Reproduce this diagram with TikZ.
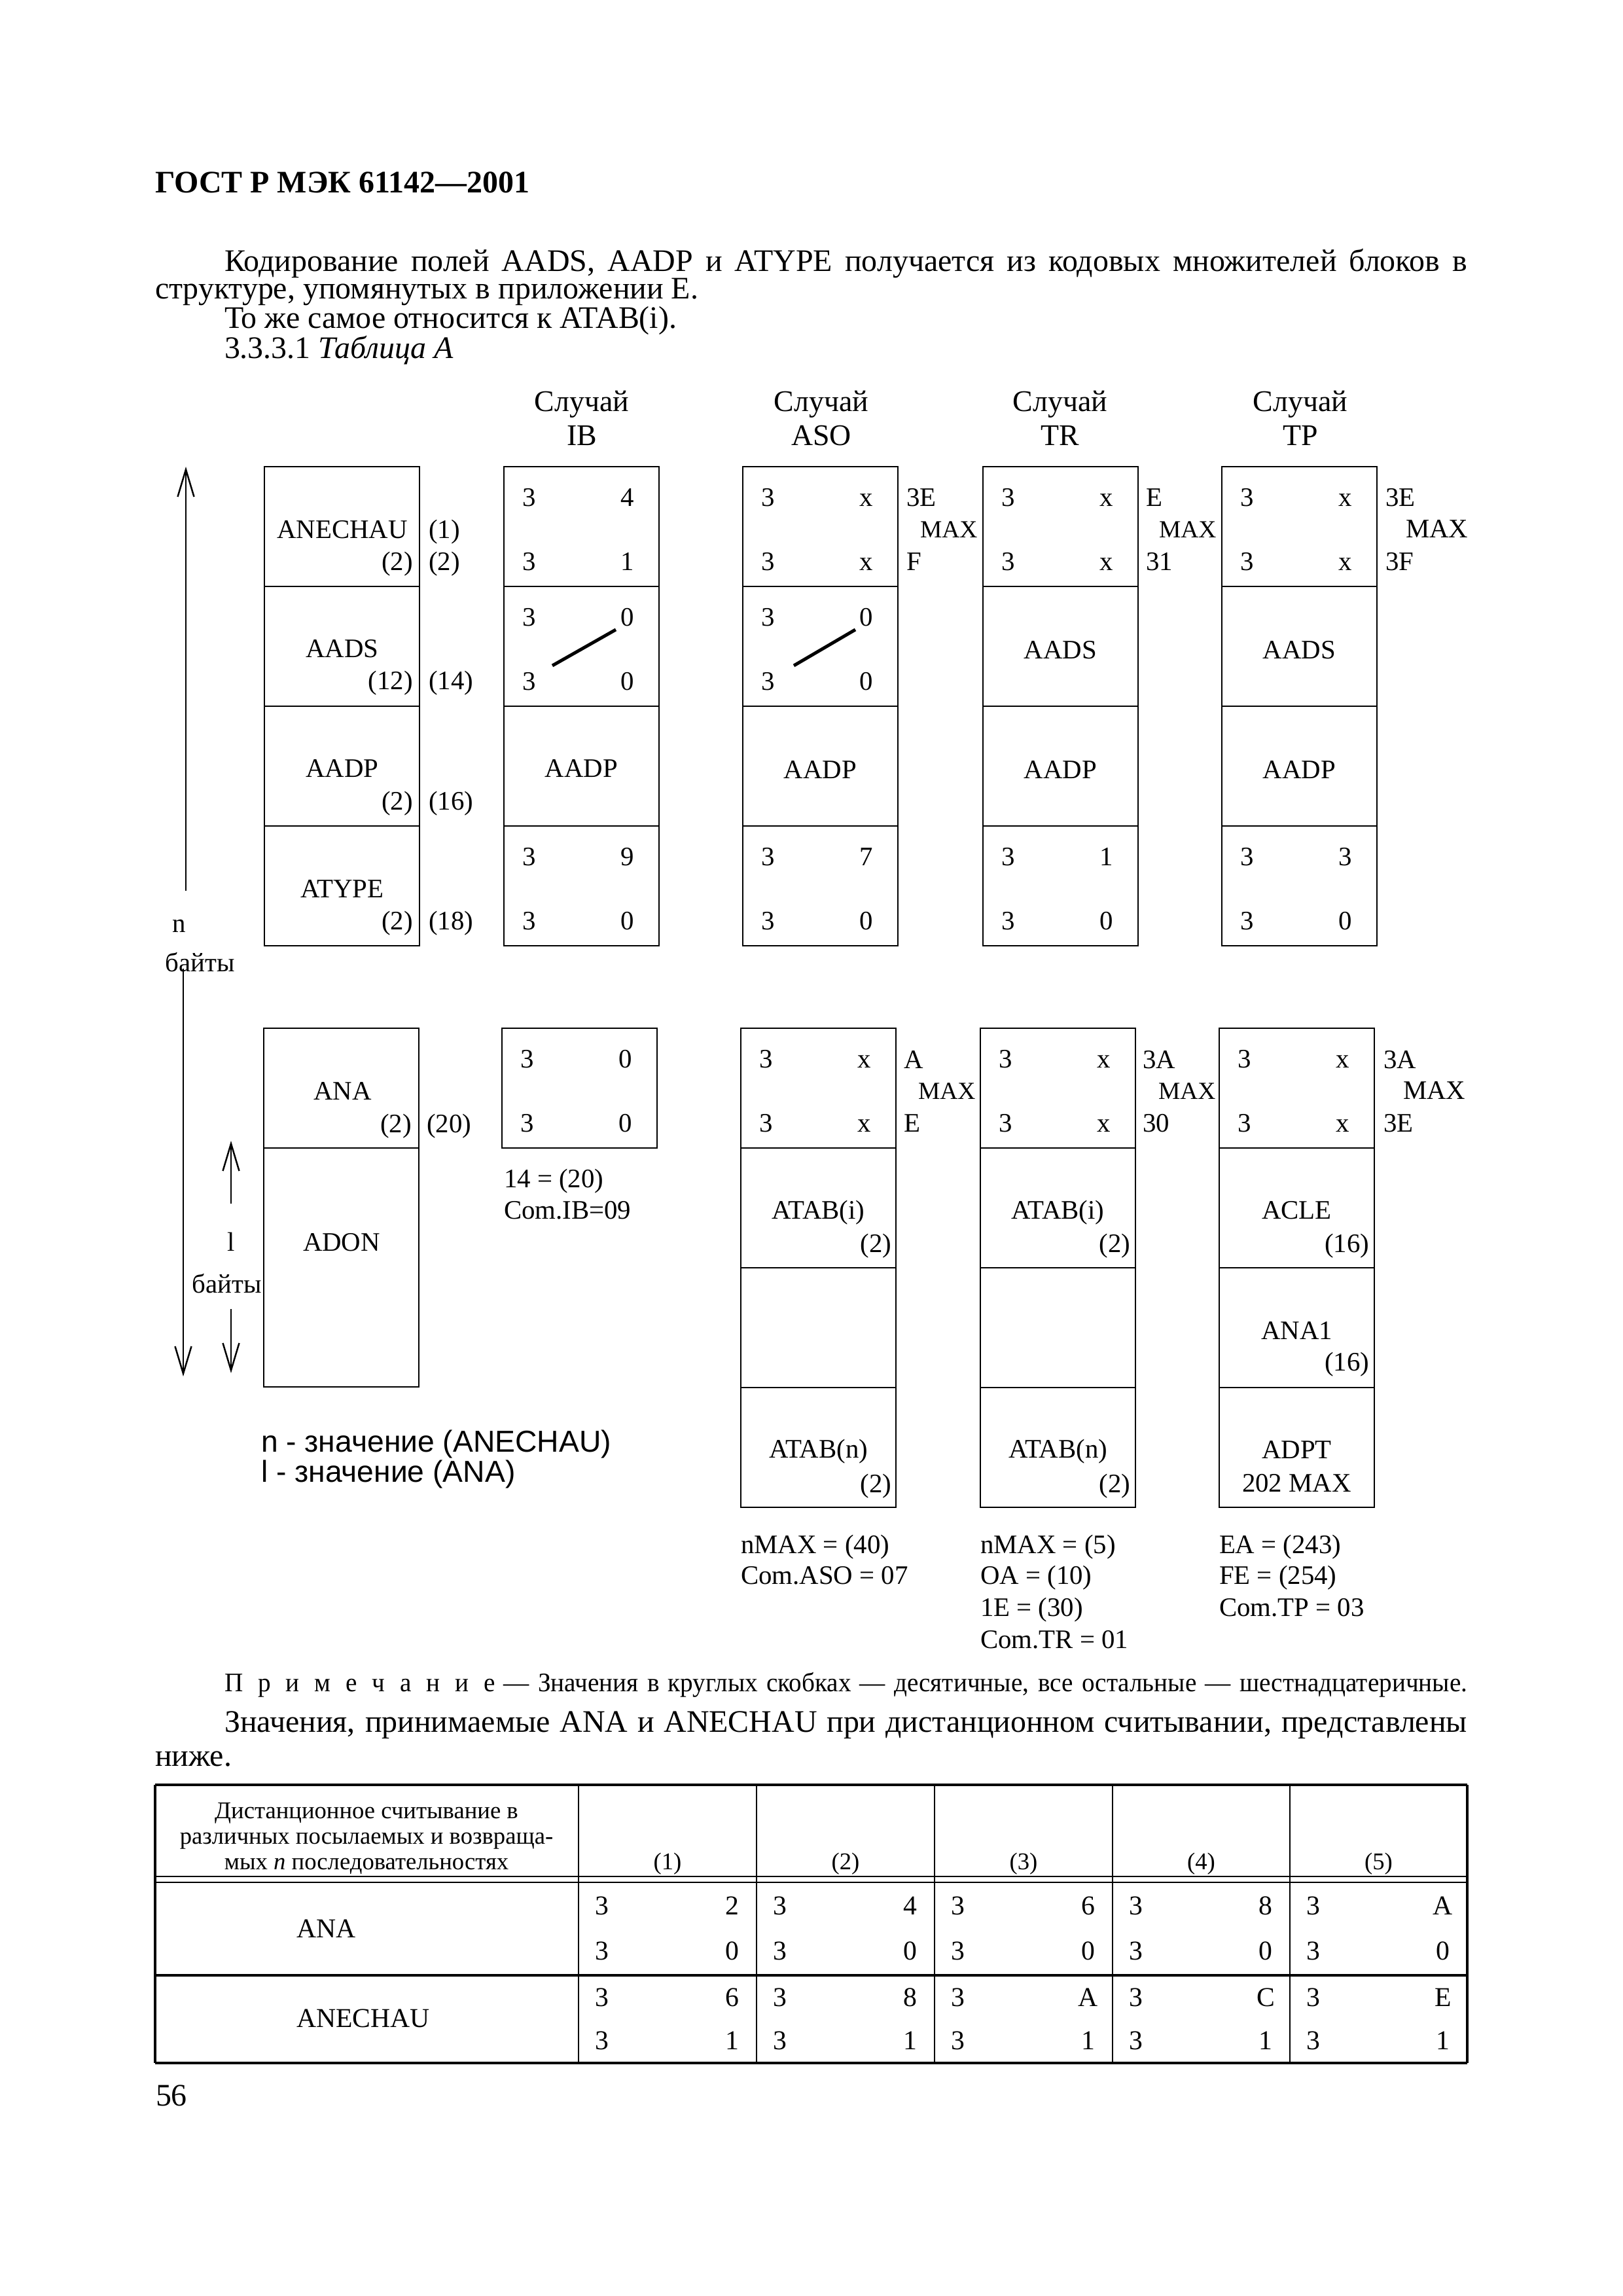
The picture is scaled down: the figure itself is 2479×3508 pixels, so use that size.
\documentclass[tikz,border=0pt]{standalone}
\usepackage{fontspec}
\setmainfont{Liberation Serif}
\newfontfamily\sansf{Liberation Sans}
\newfontfamily\notefam[FakeStretch=0.96]{Liberation Serif}
\usetikzlibrary{arrows.meta}

\newcommand\bodyf{\fontsize{11.5}{13.5}\selectfont}
\newcommand\titf{\fontsize{11.5}{13.5}\selectfont\bfseries}
\newcommand\dgf{\fontsize{9.8}{11.5}\selectfont}
\newcommand\mxf{\fontsize{9}{11}\selectfont}
\newcommand\mxbf{\fontsize{9.8}{11.5}\selectfont}
\newcommand\hdf{\fontsize{11}{13}\selectfont}
\newcommand\notef{\notefam\fontsize{9.8}{12}\selectfont}
\newcommand\smf{\fontsize{8.8}{10.5}\selectfont}
\newcommand\tblf{\fontsize{10}{12}\selectfont}
\newcommand\legf{\sansf\fontsize{11.1}{13}\selectfont}
\newcommand\lsp{\hspace{5.5pt}}

\tikzset{
  t/.style={inner sep=0pt, outer sep=0pt, text height=1.48ex, text depth=0pt},
  dg/.style={t, font=\dgf},
  tbl/.style={t, font=\tblf},
  body/.style={t, font=\bodyf, anchor=west},
  boxline/.style={line width=0.6pt},
  heavyrule/.style={line width=0.9pt},
  lightrule/.style={line width=0.4pt},
  diagline/.style={line width=1.2pt},
  arr/.style={line width=0.6pt, -{Straight Barb[length=10pt,width=6pt]}},
}

% two rows of digits in a cell: name, x left, y top, upper right, lower right
\newcommand\digcell[5]{%
  \node[dg] (#1a) at ({#2+39},{#3+46}) {3};
  \node[dg] (#1b) at ({#2+189},{#3+46}) {#4};
  \node[dg] (#1c) at ({#2+39},{#3+144}) {3};
  \node[dg] (#1d) at ({#2+189},{#3+144}) {#5};
}

\begin{document}
\begin{tikzpicture}[x=0.24pt,y=-0.24pt]
\useasboundingbox (0,0) rectangle (2479,3508);
\fill[white] (0,0) rectangle (2479,3508);

% ---------- heading and paragraph ----------
\node[t, font=\titf, anchor=west] (title) at (237,280) {ГОСТ Р МЭК 61142—2001};
\node[body] (p1) at (343,400) {\makebox[455.8pt][s]{Кодирование полей AADS, AADP и ATYPE получается из кодовых множителей блоков в}};
\node[body] (p2) at (237,442) {структуре, упомянутых в приложении Е.};
\node[body] (p3) at (343,487) {То же самое относится к ATAB(i).};
\node[body] (p4) at (343,533) {3.3.3.1 \textit{Таблица А}};

% ---------- case headers ----------
\foreach \cx/\nm/\lab in {889/ib/IB, 1255/aso/ASO, 1620/tr/TR, 1987/tp/TP} {
  \node[t, font=\hdf] (h\nm a) at (\cx,614) {Случай};
  \node[t, font=\hdf] (h\nm b) at (\cx,666) {\lab};
}

% ---------- upper frames ----------
\foreach \x in {404,770,1135,1502,1867} {
  \draw[boxline] (\x,713) rectangle ({\x+237},1445);
  \foreach \yy in {896,1079,1262} \draw[boxline] (\x,\yy) -- ({\x+237},\yy);
}

% left column
\node[dg] (anechau) at (523,808) {ANECHAU};
\node[dg, anchor=east] (na1) at (631,857) {(2)};
\node[dg, anchor=west] (oa1) at (655,808) {(1)};
\node[dg, anchor=west] (oa2) at (655,857) {(2)};
\node[dg] (aads) at (523,990) {AADS};
\node[dg, anchor=east] (na2) at (631,1039) {(12)};
\node[dg, anchor=west] (oa3) at (655,1039) {(14)};
\node[dg] (aadp) at (523,1173) {AADP};
\node[dg, anchor=east] (na3) at (631,1223) {(2)};
\node[dg, anchor=west] (oa4) at (655,1223) {(16)};
\node[dg] (atype) at (523,1357) {ATYPE};
\node[dg, anchor=east] (na4) at (631,1406) {(2)};
\node[dg, anchor=west] (oa5) at (655,1406) {(18)};

% IB
\digcell{ibr1}{770}{713}{4}{1}
\digcell{ibr2}{770}{896}{0}{0}
\draw[diagline] (844,1017) -- (941,962);
\node[dg] (ibaadp) at (888.5,1173) {AADP};
\digcell{ibr4}{770}{1262}{9}{0}

% ASO
\digcell{asor1}{1135}{713}{x}{x}
\digcell{asor2}{1135}{896}{0}{0}
\draw[diagline] (1213,1017) -- (1307,962);
\node[dg] (asoaadp) at (1253.5,1175) {AADP};
\digcell{asor4}{1135}{1262}{7}{0}
\node[dg, anchor=west] (asom1) at (1385,759) {3E};
\node[t, font=\mxf, anchor=west] (asom2) at (1406,807) {MAX};
\node[dg, anchor=west] (asom3) at (1385,857) {F};

% TR
\digcell{trr1}{1502}{713}{x}{x}
\node[dg] (traads) at (1620.5,992) {AADS};
\node[dg] (traadp) at (1620.5,1175) {AADP};
\digcell{trr4}{1502}{1262}{1}{0}
\node[dg, anchor=west] (trm1) at (1751,759) {E};
\node[t, font=\mxf, anchor=west] (trm2) at (1771,807) {MAX};
\node[dg, anchor=west] (trm3) at (1751,857) {31};

% TP
\digcell{tpr1}{1867}{713}{x}{x}
\node[dg] (tpaads) at (1985.5,992) {AADS};
\node[dg] (tpaadp) at (1985.5,1175) {AADP};
\digcell{tpr4}{1867}{1262}{3}{0}
\node[dg, anchor=west] (tpm1) at (2117,759) {3E};
\node[t, font=\mxbf, anchor=west] (tpm2) at (2148,807) {MAX};
\node[dg, anchor=west] (tpm3) at (2117,857) {3F};

% ---------- left arrows ----------
\coordinate (nTip) at (284,713);
\coordinate (nEnd) at (284,1361);
\draw[arr] (nEnd) -- (nTip);
\node[dg] (nlab) at (274,1410) {n};
\node[dg] (bytesA) at (306,1470) {байты};
\coordinate (bStart) at (280,1480);
\coordinate (bTip) at (280,2103);
\draw[arr] (bStart) -- (bTip);

\coordinate (lUpStart) at (353,1839);
\coordinate (lUpTip) at (353,1743);
\draw[arr] (lUpStart) -- (lUpTip);
\node[dg] (llab) at (353,1897) {l};
\node[dg] (bytesB) at (347,1961) {байты};
\coordinate (lDnStart) at (353,2000);
\coordinate (lDnTip) at (353,2098);
\draw[arr] (lDnStart) -- (lDnTip);

% ---------- lower frames ----------
\draw[boxline] (403,1571) rectangle (640,2119);
\draw[boxline] (403,1754) -- (640,1754);
\draw[boxline] (767,1571) rectangle (1004,1754);
\foreach \x in {1132,1498,1863} {
  \draw[boxline] (\x,1571) rectangle ({\x+237},2303);
  \foreach \yy in {1754,1937,2120} \draw[boxline] (\x,\yy) -- ({\x+237},\yy);
}

% left lower
\node[dg] (ana) at (523.5,1666) {ANA};
\node[dg, anchor=east] (nana) at (629,1716) {(2)};
\node[dg, anchor=west] (oana) at (652,1716) {(20)};
\node[dg] (adon) at (522,1897) {ADON};

% IB lower
\digcell{ibl}{767}{1571}{0}{0}
\node[dg, anchor=west] (ibn1) at (770,1800) {14 = (20)};
\node[dg, anchor=west] (ibn2) at (770,1848) {Com.IB=09};

% ASO lower
\digcell{asol}{1132}{1571}{x}{x}
\node[dg, anchor=west] (asolm1) at (1381,1618) {A};
\node[t, font=\mxf, anchor=west] (asolm2) at (1403,1665) {MAX};
\node[dg, anchor=west] (asolm3) at (1381,1715) {E};
\node[dg] (asoatabi) at (1250.5,1848) {ATAB(i)};
\node[dg, anchor=east] (asoatabi2) at (1362,1899) {(2)};
\node[dg] (asoatabn) at (1250.5,2213) {ATAB(n)};
\node[dg, anchor=east] (asoatabn2) at (1362,2266) {(2)};
\node[dg, anchor=west] (ason1) at (1132,2359) {nMAX = (40)};
\node[dg, anchor=west] (ason2) at (1132,2406) {Com.ASO = 07};

% TR lower
\digcell{trl}{1498}{1571}{x}{x}
\node[dg, anchor=west] (trlm1) at (1746,1618) {3A};
\node[t, font=\mxf, anchor=west] (trlm2) at (1770,1665) {MAX};
\node[dg, anchor=west] (trlm3) at (1746,1715) {30};
\node[dg] (tratabi) at (1616.5,1848) {ATAB(i)};
\node[dg, anchor=east] (tratabi2) at (1727,1899) {(2)};
\node[dg] (tratabn) at (1616.5,2213) {ATAB(n)};
\node[dg, anchor=east] (tratabn2) at (1727,2266) {(2)};
\node[dg, anchor=west] (trn1) at (1498,2359) {nMAX = (5)};
\node[dg, anchor=west] (trn2) at (1498,2406) {OA = (10)};
\node[dg, anchor=west] (trn3) at (1498,2455) {1E = (30)};
\node[dg, anchor=west] (trn4) at (1498,2504) {Com.TR = 01};

% TP lower
\digcell{tpl}{1863}{1571}{x}{x}
\node[dg, anchor=west] (tplm1) at (2114,1618) {3A};
\node[t, font=\mxbf, anchor=west] (tplm2) at (2144,1665) {MAX};
\node[dg, anchor=west] (tplm3) at (2114,1715) {3E};
\node[dg] (tpacle) at (1981.5,1848) {ACLE};
\node[dg, anchor=east] (tpacle2) at (2092,1899) {(16)};
\node[dg] (tpana) at (1981.5,2032) {ANA1};
\node[dg, anchor=east] (tpana2) at (2092,2080) {(16)};
\node[dg] (tpadpt) at (1981.5,2214) {ADPT};
\node[dg] (tpadpt2) at (1981.5,2265) {202 MAX};
\node[dg, anchor=west] (tpn1) at (1863,2359) {EA = (243)};
\node[dg, anchor=west] (tpn2) at (1863,2406) {FE = (254)};
\node[dg, anchor=west] (tpn3) at (1863,2455) {Com.TP = 03};

% legend
\node[t, font=\legf, anchor=west] (leg1) at (399,2204) {n - значение (ANECHAU)};
\node[t, font=\legf, anchor=west] (leg2) at (399,2250) {l - значение (ANA)};

% ---------- note and text ----------
\node[t, font=\notef, anchor=west] (note) at (343,2570) {\makebox[455.8pt][s]{П\lsp р\lsp и\lsp м\lsp е\lsp ч\lsp а\lsp н\lsp и\lsp е — Значения в круглых скобках — десятичные, все остальные — шестнадцатеричные.}};
\node[body] (p5) at (343,2632) {\makebox[455.8pt][s]{Значения, принимаемые ANA и ANECHAU при дистанционном считывании, представлены}};
\node[body] (p6) at (237,2684) {ниже.};

% ---------- table ----------
\draw[heavyrule] (237,2727) -- (2242,2727);
\draw[heavyrule] (237,3018) -- (2242,3018);
\draw[heavyrule] (237,3152) -- (2242,3152);
\draw[heavyrule] (237,2727) -- (237,3152);
\draw[heavyrule] (2242,2727) -- (2242,3152);
\draw[lightrule] (237,2867) -- (2242,2867);
\draw[lightrule] (237,2876) -- (2242,2876);
\foreach \xv in {884,1156,1428,1700,1971} \draw[lightrule] (\xv,2727) -- (\xv,3152);

\node[t, font=\smf] (th1) at (560,2764) {Дистанционное считывание в};
\node[t, font=\smf] (th2) at (560,2803) {различных посылаемых и возвраща-};
\node[t, font=\smf] (th3) at (560,2842) {мых \textit{n} последовательностях};
\node[tbl, anchor=west] (tana) at (453,2946) {ANA};
\node[tbl, anchor=west] (tanechau) at (453,3083) {ANECHAU};

\foreach \xl/\xr/\a/\b/\k in {884/1156/2/6/1, 1156/1428/4/8/2, 1428/1700/6/A/3, 1700/1971/8/C/4, 1971/2242/A/E/5} {
  \node[tbl] (ta\k) at ({\xl+36},2911) {3};
  \node[tbl] (tb\k) at ({\xr-37},2911) {\a};
  \node[tbl] (tc\k) at ({\xl+36},2980) {3};
  \node[tbl] (td\k) at ({\xr-37},2980) {0};
  \node[tbl] (te\k) at ({\xl+36},3051) {3};
  \node[tbl] (tf\k) at ({\xr-37},3051) {\b};
  \node[tbl] (tg\k) at ({\xl+36},3117) {3};
  \node[tbl] (tq\k) at ({\xr-37},3117) {1};
  \node[t, font=\smf] (tk\k) at ({(\xl+\xr)/2},2842) {(\k)};
}

\node[body] (pagenum) at (238,3203) {56};
\end{tikzpicture}
\end{document}
